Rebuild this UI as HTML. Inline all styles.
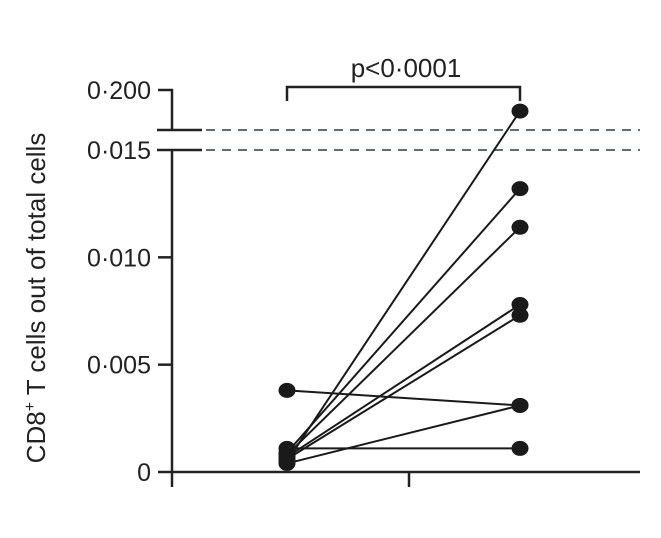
<!DOCTYPE html>
<html><head><meta charset="utf-8"><style>
body{margin:0;background:#fff;}
svg text{font-family:"Liberation Sans",sans-serif;fill:#222;}
</style></head><body>
<svg id="chart" width="661" height="533" viewBox="0 0 661 533" xmlns="http://www.w3.org/2000/svg">
<g id="axes" stroke="#222" stroke-width="2.5" fill="none">
  <path d="M172 150 V487"/>
  <path d="M158 90 H172 V130"/>
  <path d="M157 130 H202"/>
  <path d="M157 150 H202"/>
  <path d="M158 472 H640"/>
  <path d="M409 472 V487"/>
  <path d="M287 101 V87 H520 V101"/>
</g>
<g stroke="#5a6e78" stroke-width="2" stroke-dasharray="9,7">
  <line x1="206" y1="130" x2="640" y2="130"/>
  <line x1="206" y1="150" x2="640" y2="150"/>
</g>
<text x="406" y="77" font-size="26" text-anchor="middle">p&lt;0·0001</text>
<text transform="translate(45,298) rotate(-90)" font-size="26" text-anchor="middle">CD8<tspan font-size="16" dy="-10">+</tspan><tspan dy="10"> T cells out of total cells</tspan></text>
<g id="ticks"></g>
<g id="marks"></g>
</svg>
<script>
const tickValues=[0,0.005,0.010,0.015,0.200];
const tickLabels=["0","0·005","0·010","0·015","0·200"];
const beforeValues=[0.0038,0.0011,0.0004,0.0006,0.0007,0.0008,0.0009,0.0005];
const afterValues=[0.0031,0.0011,0.0031,0.0073,0.0078,0.0114,0.0132,0.135];
const NS="http://www.w3.org/2000/svg";
function y(v){ if(v<=0.015) return 472-(v/0.015)*322; return 150-((v-0.015)/0.185)*60; }
const xBefore=287, xAfter=520;
const ticks=document.getElementById('ticks');
tickValues.forEach((v,i)=>{
  const t=document.createElementNS(NS,'text');
  
  
  t.setAttribute('x',151);t.setAttribute('y',y(v)+9);
  t.setAttribute('font-size','25');t.setAttribute('text-anchor','end');
  t.textContent=tickLabels[i];ticks.appendChild(t);
  if(v>0&&v<0.015){
    const l=document.createElementNS(NS,'line');
    
    
    l.setAttribute('x1',158);l.setAttribute('x2',172);l.setAttribute('y1',y(v));l.setAttribute('y2',y(v));
    l.setAttribute('stroke','#222');l.setAttribute('stroke-width','2.5');ticks.appendChild(l);
  }
});
const marks=document.getElementById('marks');
beforeValues.forEach((b,i)=>{
  const l=document.createElementNS(NS,'line');
  
  
  l.setAttribute('x1',xBefore);l.setAttribute('y1',y(b));l.setAttribute('x2',xAfter);l.setAttribute('y2',y(afterValues[i]));
  l.setAttribute('stroke','#1a1a1a');l.setAttribute('stroke-width','2');marks.appendChild(l);
});
beforeValues.forEach((b,i)=>{
  [[xBefore,b,'point-before'],[xAfter,afterValues[i],'point-after']].forEach(p=>{
    const c=document.createElementNS(NS,'ellipse');
    
    
    c.setAttribute('cx',p[0]);c.setAttribute('cy',y(p[1]));c.setAttribute('rx',8.5);c.setAttribute('ry',7.5);
    c.setAttribute('fill','#1a1a1a');marks.appendChild(c);
  });
});
</script>
</body></html>
